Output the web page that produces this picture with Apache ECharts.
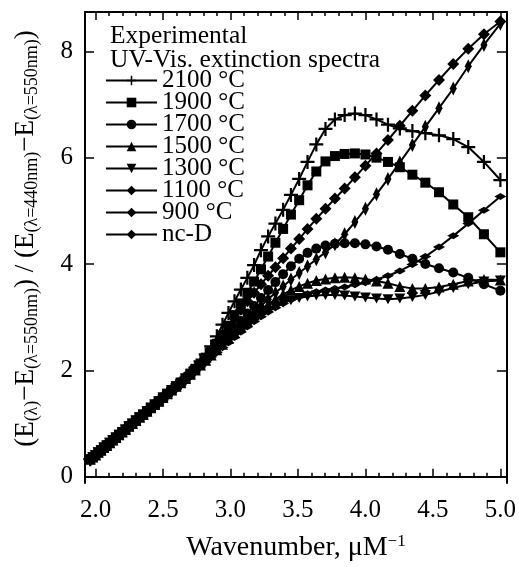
<!DOCTYPE html>
<html><head><meta charset="utf-8">
<script src="https://cdn.jsdelivr.net/npm/echarts@6/dist/echarts.min.js"></script>
<style>html,body{margin:0;padding:0;background:#fff}#c{width:519px;height:567px}</style>
</head><body><div id="c"></div>
<script>
// Wavenumber (µm^-1) of each measured point (510 nm ... 200 nm in 5 nm steps)
const wavenumbers = [1.961,1.980,2.000,2.020,2.041,2.062,2.083,2.105,2.128,2.151,2.174,2.198,2.222,2.247,2.273,2.299,2.326,2.353,2.381,2.410,2.439,2.469,2.500,2.532,2.564,2.597,2.632,2.667,
  2.703,2.740,2.778,2.817,2.857,2.899,2.941,2.985,3.030,3.077,3.125,3.175,3.226,3.279,3.333,3.390,3.448,3.509,3.571,3.636,3.704,3.774,3.846,3.922,4.000,4.082,4.167,4.255,4.348,4.444,4.545,4.651,4.762,4.878,5.000];
// Low-wavenumber part where all spectra coincide
const commonRise = [0.33,0.37,0.41,0.46,0.50,0.55,0.59,0.64,0.69,0.74,0.79,0.84,0.89,0.95,1.00,1.06,1.12,1.17,1.23,1.30,1.36,1.42,1.49,1.56,1.63,1.70,1.77,1.85];
// Values from 2.703 µm^-1 upward
const tail2100 = [1.95,2.05,2.17,2.30,2.45,2.64,2.86,3.08,3.30,3.52,3.74,3.98,4.26,4.52,4.76,5.02,5.30,5.60,5.92,6.25,6.54,6.72,6.80,6.83,6.80,6.72,6.62,6.55,6.50,6.46,6.42,6.35,6.20,5.92,5.58];
const tail1900 = [1.94,2.03,2.13,2.24,2.36,2.50,2.66,2.84,3.04,3.26,3.46,3.67,3.90,4.14,4.40,4.66,4.93,5.20,5.48,5.74,5.93,6.03,6.07,6.08,6.06,6.00,5.92,5.82,5.68,5.53,5.35,5.12,4.88,4.56,4.22];
const tail1700 = [1.93,2.02,2.11,2.21,2.32,2.43,2.55,2.67,2.80,2.93,3.07,3.21,3.36,3.51,3.66,3.81,3.96,4.10,4.21,4.29,4.35,4.38,4.39,4.39,4.37,4.33,4.27,4.19,4.10,4.00,3.92,3.84,3.74,3.62,3.50];
const tail1500 = [1.93,2.01,2.10,2.19,2.29,2.39,2.49,2.60,2.71,2.82,2.93,3.04,3.14,3.24,3.34,3.43,3.51,3.58,3.64,3.69,3.72,3.74,3.75,3.74,3.72,3.68,3.64,3.58,3.54,3.54,3.57,3.62,3.68,3.71,3.70];
const tail1300 = [1.92,2.00,2.08,2.17,2.26,2.35,2.45,2.55,2.65,2.75,2.85,2.95,3.04,3.12,3.20,3.27,3.32,3.36,3.39,3.41,3.42,3.42,3.41,3.39,3.37,3.35,3.34,3.35,3.38,3.42,3.48,3.55,3.62,3.67,3.69];
const tail1100 = [1.92,2.00,2.08,2.16,2.25,2.34,2.43,2.52,2.62,2.72,2.82,2.92,3.01,3.10,3.18,3.26,3.33,3.39,3.44,3.48,3.51,3.54,3.57,3.61,3.65,3.71,3.78,3.87,3.99,4.14,4.32,4.53,4.76,5.01,5.27];
const tail900  = [1.93,2.02,2.11,2.20,2.30,2.40,2.51,2.62,2.73,2.85,2.97,3.09,3.21,3.34,3.46,3.58,3.71,3.83,3.96,4.09,4.22,4.37,4.56,4.79,5.04,5.31,5.60,5.91,6.24,6.58,6.93,7.30,7.72,8.12,8.52];
const tailNcD  = [1.94,2.03,2.13,2.24,2.37,2.51,2.66,2.82,2.98,3.14,3.30,3.46,3.62,3.78,3.94,4.11,4.29,4.47,4.66,4.85,5.04,5.23,5.42,5.63,5.85,6.08,6.33,6.60,6.88,7.17,7.46,7.76,8.05,8.32,8.56];

const seriesNames = ['2100 °C','1900 °C','1700 °C','1500 °C','1300 °C','1100 °C','900 °C','nc-D'];
const xMajorTicks = [2.0,2.5,3.0,3.5,4.0,4.5,5.0];
const xMinorTicks = [2.1,2.2,2.3,2.4,2.6,2.7,2.8,2.9,3.1,3.2,3.3,3.4,3.6,3.7,3.8,3.9,4.1,4.2,4.3,4.4,4.6,4.7,4.8,4.9];
const yMajorTicks = [0,2,4,6,8];

const tails = [tail2100,tail1900,tail1700,tail1500,tail1300,tail1100,tail900,tailNcD];
const PLUS = 'path://M4.2,0h1.6v4.2h4.2v1.6h-4.2v4.2h-1.6v-4.2h-4.2v-1.6h4.2z';
const DOWN = 'path://M0,0L10,0L5,8.7Z';
const FLATD = 'path://M0,3L5,0L10,3L5,6Z';
const TALLD = 'path://M3,0L6,5L3,10L0,5Z';
const symbols = [PLUS,'rect','circle','triangle',DOWN,FLATD,TALLD,'diamond'];
const sizes = [14,10,10,11,[11,10],[12,7],[7,14],12];

const FONT = 'Liberation Serif';
const XMIN = 1.922, XMAX = 5.048, YMIN = -0.117, YMAX = 8.739;

const series = seriesNames.map((name,i) => {
  const ys = commonRise.concat(tails[i]);
  return {
    name, type:'line', xAxisIndex:0, yAxisIndex:0,
    data: wavenumbers.map((x,j)=>[x, ys[j]]),
    symbol: symbols[i], symbolSize: sizes[i], showAllSymbol:true,
    lineStyle:{color:'#000', width:2},
    itemStyle:{color:'#000'},
    emphasis:{disabled:true}, animation:false, z: 3
  };
});

function xAx(pos, ticks, len, showLabel, showLine){
  return {type:'value', position:pos, min:XMIN, max:XMAX,
    axisLine:{show:showLine, lineStyle:{color:'#000', width:2}},
    axisTick:{show:true, inside:true, length:len, customValues:ticks, lineStyle:{color:'#000', width:1.5}},
    axisLabel:{show:showLabel, customValues:ticks, margin:15, color:'#000', fontSize:25, fontFamily:FONT, formatter:v=>v.toFixed(1)},
    splitLine:{show:false}};
}
const chart = echarts.init(document.getElementById('c'), null, {renderer:'canvas'});
chart.setOption({
  animation:false,
  backgroundColor:'#fff',
  grid:{left:85, right:11.5, top:12, bottom:79},
  title:{text:'Experimental\nUV-Vis. extinction spectra', left:105, top:19,
    textStyle:{fontFamily:FONT, fontWeight:'normal', fontSize:25.5, lineHeight:24, color:'#000'}},
  legend:{orient:'vertical', left:100, top:63, itemWidth:51, itemHeight:12, itemGap:-3,
    data:seriesNames, selectedMode:false,
    textStyle:{fontFamily:FONT, fontSize:25, lineHeight:22, color:'#000'}},
  xAxis:[
    Object.assign(xAx('bottom', xMajorTicks, 8, true, true), {
      name:'{m|Wavenumber, μM}{p|−1}', nameLocation:'middle', nameGap:50,
      nameTextStyle:{rich:{m:{fontFamily:FONT, fontSize:28, lineHeight:30, color:'#000'},
                           p:{fontFamily:FONT, fontSize:17, lineHeight:16, verticalAlign:'top', color:'#000'}}}}),
    xAx('bottom', xMinorTicks, 4, false, false),
    xAx('top', xMajorTicks, 8, false, true),
    xAx('top', xMinorTicks, 4, false, false)
  ],
  yAxis:[
    {type:'value', position:'left', min:YMIN, max:YMAX,
     axisLine:{show:true, lineStyle:{color:'#000', width:2}},
     axisTick:{show:true, inside:true, length:9, customValues:yMajorTicks, lineStyle:{color:'#000', width:1.5}},
     axisLabel:{customValues:yMajorTicks, margin:12, color:'#000', fontSize:25, fontFamily:FONT},
     splitLine:{show:false},
     name:'{m|(E}{s|(λ)}{m|−E}{s|(λ=550nm)}{m|) / (E}{s|(λ=440nm)}{m|−E}{s|(λ=550nm)}{m|)}',
     nameLocation:'middle', nameGap:44, nameRotate:90,
     nameTextStyle:{padding:[0,0,0,18], rich:{m:{fontFamily:FONT, fontSize:27, lineHeight:30, color:'#000'},
                          s:{fontFamily:FONT, fontSize:18, lineHeight:18, verticalAlign:'bottom', color:'#000'}}}},
    {type:'value', position:'right', min:YMIN, max:YMAX,
     axisLine:{show:true, lineStyle:{color:'#000', width:2}},
     axisTick:{show:true, inside:true, length:10, customValues:yMajorTicks, lineStyle:{color:'#000', width:1.5}},
     axisLabel:{show:false}, splitLine:{show:false}}
  ],
  series
});
</script></body></html>
